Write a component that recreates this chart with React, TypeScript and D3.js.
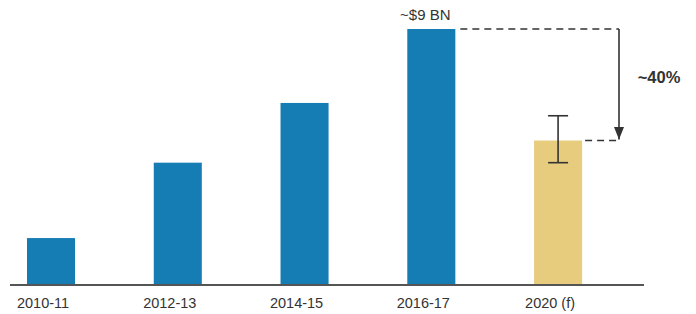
import React from 'react';
import * as d3 from 'd3';

const categories = ['2010-11', '2012-13', '2014-15', '2016-17', '2020 (f)'];
const values = [1.65, 4.3, 6.4, 9, 5.08];
const forecast = [false, false, false, false, true];
const errorLow = 4.3;
const errorHigh = 5.95;
const peakLabel = '~$9 BN';
const dropLabel = '~40%';

const width = 696;
const height = 314;

export default function App() {
  const baseY = 285;
  const x = d3
    .scaleBand<string>()
    .domain(categories)
    .range([-12.3, 621.4])
    .paddingInner(0.621)
    .paddingOuter(0.31);
  const y = d3.scaleLinear().domain([0, 9]).range([baseY, 29]);

  const peakIdx = 3;
  const fIdx = 4;
  const peakRight = x(categories[peakIdx])! + x.bandwidth();
  const fRight = x(categories[fIdx])! + x.bandwidth();
  const fCenter = x(categories[fIdx])! + x.bandwidth() / 2;
  const arrowX = 619;

  return (
    <svg
      width={width}
      height={height}
      style={{ position: 'absolute', left: 0, top: 0, fontFamily: 'Liberation Sans, Arial, sans-serif' }}
    >
      <defs>
        <marker id="arrow" viewBox="0 0 10 10" refX="10" refY="5" markerWidth="8" markerHeight="8" orient="auto">
          <path d="M0,1 L10,5 L0,9 z" fill="#333" />
        </marker>
      </defs>
      {categories.map((c, i) => (
        <rect
          key={c}
          x={x(c)}
          y={y(values[i])}
          width={x.bandwidth()}
          height={baseY - y(values[i])}
          fill={forecast[i] ? '#e8cc7e' : '#157db3'}
        />
      ))}
      <line x1={10} x2={644} y1={baseY} y2={baseY} stroke="#555" strokeWidth={2} />
      {categories.map((c) => (
        <text
          key={c}
          x={x(c)! + x.bandwidth() / 2 - 8}
          y={308}
          textAnchor="middle"
          fontSize={14.5}
          fill="#333"
        >
          {c}
        </text>
      ))}
      {/* error bar */}
      <g stroke="#333" strokeWidth={1.6}>
        <line x1={fCenter} x2={fCenter} y1={y(errorHigh)} y2={y(errorLow)} />
        <line x1={fCenter - 10} x2={fCenter + 10} y1={y(errorHigh)} y2={y(errorHigh)} />
        <line x1={fCenter - 10} x2={fCenter + 10} y1={y(errorLow)} y2={y(errorLow)} />
      </g>
      {/* dashed guides */}
      <g stroke="#333" strokeWidth={1.6} strokeDasharray="7,5">
        <line x1={peakRight + 5} x2={arrowX} y1={y(values[peakIdx])} y2={y(values[peakIdx])} />
        <line x1={fRight + 3} x2={arrowX} y1={y(values[fIdx])} y2={y(values[fIdx])} />
      </g>
      <line
        x1={arrowX}
        x2={arrowX}
        y1={y(values[peakIdx])}
        y2={y(values[fIdx]) - 1}
        stroke="#333"
        strokeWidth={1.6}
        markerEnd="url(#arrow)"
      />
      <text x={peakRight - x.bandwidth() / 2 - 6} y={20} textAnchor="middle" fontSize={15} fill="#333">
        {peakLabel}
      </text>
      <text x={659} y={83} textAnchor="middle" fontSize={16.5} fontWeight="bold" fill="#333">
        {dropLabel}
      </text>
    </svg>
  );
}
